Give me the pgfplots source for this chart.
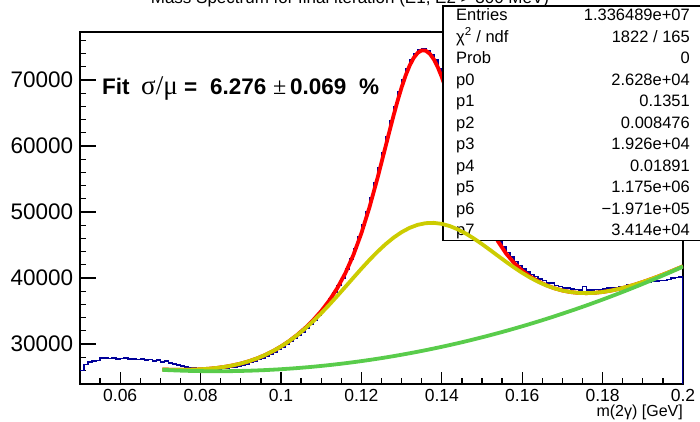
\documentclass[border=0pt]{standalone}
\usepackage{fontspec}
\setmainfont{Liberation Sans}
\newfontfamily\symf{Liberation Serif}
\usepackage{pgfplots}
\pgfplotsset{compat=1.18}

\definecolor{hblue}{RGB}{0,0,153}
\definecolor{fred}{RGB}{255,0,0}
\definecolor{fyel}{RGB}{204,204,0}
\definecolor{fgrn}{RGB}{89,204,75}

\begin{document}
\begin{tikzpicture}[x=1pt,y=1pt]
\useasboundingbox (0,0) rectangle (700,422);
\pgfplotsset{frame/.style={at={(80pt,38pt)}, anchor=south west, scale only axis,
  width=603pt, height=352pt, xmin=0.05, xmax=0.2, ymin=23940, ymax=77270}}

% histogram, total fit, axes
\begin{axis}[frame,
    axis line style={line width=1.5pt},
    tick pos=left, tick align=inside,
    xtick={0.06,0.08,0.1,0.12,0.14,0.16,0.18,0.2},
    xticklabels={0.06,0.08,0.1,0.12,0.14,0.16,0.18,0.2},
    minor xtick={0.055,0.065,0.07,0.075,0.085,0.09,0.095,0.105,0.11,0.115,0.125,0.13,0.135,0.145,0.15,0.155,0.165,0.17,0.175,0.185,0.19,0.195},
    ytick={30000,40000,50000,60000,70000},
    yticklabels={30000,40000,50000,60000,70000},
    minor ytick={24000,26000,...,76000},
    extra y ticks={30000,40000,50000,60000,70000},
    extra y tick labels={},
    extra y tick style={major tick length=15.5pt},
    major tick length=12pt, minor tick length=6pt,
    every tick/.append style={black, line width=1.3pt},
    xticklabel style={font=\fontsize{17.5}{17.5}\selectfont, inner sep=0pt, yshift=-4.8pt},
    yticklabel style={font=\fontsize{22.5}{22.5}\selectfont, inner sep=0pt, xshift=-6.7pt},
    scaled ticks=false]

% histogram, bins of 0.001 (left edge, content)
\addplot[const plot mark left, draw=hblue, line width=1.6pt] coordinates {
(0.050,26000) (0.051,26900) (0.052,27300) (0.053,27400) (0.054,27500)
(0.055,27900) (0.056,27850) (0.057,27800) (0.058,27850) (0.059,27750)
(0.060,27800) (0.061,27850) (0.062,27700) (0.063,27750) (0.064,27650)
(0.065,27700) (0.066,27600) (0.067,27650) (0.068,27450) (0.069,27550)
(0.070,27300) (0.071,27400) (0.072,27100) (0.073,26950) (0.074,26800)
(0.075,26650) (0.076,26550) (0.077,26450) (0.078,26350) (0.079,26300)
(0.080,26240) (0.081,26220) (0.082,26250) (0.083,26270) (0.084,26250)
(0.085,26280) (0.086,26330) (0.087,26420) (0.088,26530) (0.089,26660)
(0.090,26820) (0.091,26980) (0.092,27180) (0.093,27400) (0.094,27640)
(0.095,27880) (0.096,28170) (0.097,28470) (0.098,28800) (0.099,29150)
(0.100,29530) (0.101,29920) (0.102,30380) (0.103,30830) (0.104,31350)
(0.105,31850) (0.106,32430) (0.107,33020) (0.108,33680) (0.109,34380)
(0.110,35130) (0.111,35950) (0.112,36850) (0.113,37800) (0.114,38850)
(0.115,40000) (0.116,41350) (0.117,42850) (0.118,44450) (0.119,46200)
(0.120,48050) (0.121,50050) (0.122,52150) (0.123,54350) (0.124,56650)
(0.125,59000) (0.126,61400) (0.127,63750) (0.128,66000) (0.129,68150)
(0.130,70050) (0.131,71700) (0.132,73000) (0.133,73950) (0.134,74500)
(0.135,74650) (0.136,74350) (0.137,73750) (0.138,73000) (0.139,71650)
(0.140,70050) (0.141,68200) (0.142,66200) (0.143,64100) (0.144,61950)
(0.145,59800) (0.146,57700) (0.147,55700) (0.148,53850) (0.149,52100)
(0.150,50500) (0.151,49050) (0.152,47750) (0.153,46600) (0.154,45600)
(0.155,44650) (0.156,43850) (0.157,43150) (0.158,42500) (0.159,41900)
(0.160,41400) (0.161,40950) (0.162,40500) (0.163,40200) (0.164,39850)
(0.165,39600) (0.166,39250) (0.167,39200) (0.168,38850) (0.169,38700)
(0.170,38500) (0.171,38450) (0.172,38300) (0.173,38250) (0.174,38150)
(0.175,38700) (0.176,38200) (0.177,38150) (0.178,38250) (0.179,38200)
(0.180,38350) (0.181,38450) (0.182,38500) (0.183,38450) (0.184,38650)
(0.185,38700) (0.186,38900) (0.187,38950) (0.188,39050) (0.189,39200)
(0.190,39250) (0.191,39350) (0.192,39450) (0.193,39500) (0.194,39650)
(0.195,39600) (0.196,39800) (0.197,40000) (0.198,40050) (0.199,40150)
(0.200,40150) (0.200,0)
};

% total fit
\addplot[fred, line width=3.8pt, line join=round] coordinates {
(0.0705,26141) (0.072,26114) (0.074,26093) (0.076,26093) (0.078,26117) (0.080,26168)
(0.082,26252) (0.084,26374) (0.086,26542) (0.088,26761) (0.090,27039)
(0.092,27386) (0.094,27810) (0.096,28319) (0.098,28922) (0.100,29625)
(0.102,30436) (0.104,31363) (0.106,32416) (0.108,33614) (0.110,34986)
(0.112,36578) (0.114,38462) (0.116,40726) (0.118,43473) (0.120,46786)
(0.122,50696) (0.124,55127) (0.126,59883) (0.127,62280) (0.128,64615)
(0.129,66835) (0.130,68875) (0.131,70676) (0.132,72179) (0.133,73338)
(0.134,74114) (0.135,74484) (0.136,74438) (0.137,73982) (0.138,73138)
(0.139,71940) (0.140,70436) (0.141,68680) (0.142,66732) (0.143,64654)
(0.144,62507) (0.146,58217) (0.148,54221) (0.150,50738) (0.152,47847)
(0.154,45528) (0.156,43700) (0.158,42265) (0.160,41129) (0.162,40220)
(0.164,39487) (0.166,38902) (0.168,38445) (0.170,38104) (0.172,37872)
(0.174,37740) (0.176,37704) (0.178,37754) (0.180,37881) (0.182,38078)
(0.184,38335) (0.186,38644) (0.188,38999) (0.190,39393) (0.192,39820)
(0.194,40276) (0.196,40755) (0.198,41255) (0.200,41773)
};
\end{axis}

% stats box
\begin{scope}
\clip (443,181.5) rectangle (700,416);
\fill[white] (443,181.5) rectangle (700,416);
\begin{scope}[every node/.style={font=\fontsize{16.5}{16.5}\selectfont, inner sep=0pt}]
\node[anchor=base west] at (456,401.3) {Entries};
\node[anchor=base east] at (690,401.3) {1.336489e+07};
\node[anchor=base west] at (456,379.8) {χ\textsuperscript{2} / ndf};
\node[anchor=base east] at (690,379.8) {1822 / 165};
\node[anchor=base west] at (456,358.3) {Prob};
\node[anchor=base east] at (690,358.3) {0};
\node[anchor=base west] at (456,336.8) {p0};
\node[anchor=base east] at (690,336.8) {2.628e+04};
\node[anchor=base west] at (456,315.3) {p1};
\node[anchor=base east] at (690,315.3) {0.1351};
\node[anchor=base west] at (456,293.8) {p2};
\node[anchor=base east] at (690,293.8) {0.008476};
\node[anchor=base west] at (456,272.3) {p3};
\node[anchor=base east] at (690,272.3) {1.926e+04};
\node[anchor=base west] at (456,250.8) {p4};
\node[anchor=base east] at (690,250.8) {0.01891};
\node[anchor=base west] at (456,229.3) {p5};
\node[anchor=base east] at (690,229.3) {1.175e+06};
\node[anchor=base west] at (456,207.8) {p6};
\node[anchor=base east] at (690,207.8) {−1.971e+05};
\node[anchor=base west] at (456,186.3) {p7};
\node[anchor=base east] at (690,186.3) {3.414e+04};
\end{scope}
\end{scope}
\draw[line width=1.5pt] (443,181.5) rectangle (701,416);

% signal-free part and polynomial background, drawn over the box
\begin{axis}[frame, hide axis]
\addplot[fyel, line width=3.8pt, line join=round] coordinates {
(0.0705,26141) (0.072,26114) (0.074,26093) (0.076,26093) (0.078,26117) (0.080,26168)
(0.082,26252) (0.084,26374) (0.086,26542) (0.088,26761) (0.090,27039)
(0.092,27386) (0.094,27810) (0.096,28318) (0.098,28920) (0.100,29620)
(0.102,30423) (0.104,31332) (0.106,32344) (0.108,33456) (0.110,34658)
(0.112,35937) (0.114,37276) (0.116,38652) (0.118,40039) (0.120,41411)
(0.122,42735) (0.124,43978) (0.126,45114) (0.128,46112) (0.130,46947)
(0.132,47599) (0.134,48054) (0.136,48305) (0.138,48352) (0.140,48200)
(0.142,47864) (0.144,47363) (0.146,46722) (0.148,45968) (0.150,45133)
(0.152,44247) (0.154,43341) (0.156,42444) (0.158,41582) (0.160,40778)
(0.162,40049) (0.164,39409) (0.166,38868) (0.168,38431) (0.170,38099)
(0.172,37870) (0.174,37740) (0.176,37704) (0.178,37754) (0.180,37881)
(0.182,38078) (0.184,38335) (0.186,38644) (0.188,38999) (0.190,39393)
(0.192,39820) (0.194,40276) (0.196,40755) (0.198,41255) (0.200,41773)
};
\addplot[fgrn, line width=3.8pt, smooth] coordinates {
(0.0705,26085) (0.072,26040) (0.076,25947) (0.080,25892) (0.084,25874) (0.088,25894)
(0.092,25952) (0.096,26047) (0.100,26180) (0.104,26350) (0.108,26558)
(0.112,26804) (0.116,27087) (0.120,27408) (0.124,27766) (0.128,28162)
(0.132,28596) (0.136,29067) (0.140,29576) (0.144,30122) (0.148,30706)
(0.152,31328) (0.156,31987) (0.160,32684) (0.164,33418) (0.168,34190)
(0.172,35000) (0.176,35847) (0.180,36732) (0.184,37654) (0.188,38614)
(0.192,39612) (0.196,40647) (0.200,41720)
};
\end{axis}

% title (cut by the top of the page), axis title, fit result
\node[anchor=base, font=\fontsize{17}{17}\selectfont, inner sep=0pt] at (350,418.5)
  {Mass Spectrum for final iteration (E1, E2 > 300 MeV)};
\node[anchor=east, font=\fontsize{16}{16}\selectfont, inner sep=0pt] at (683,10)
  {m(2γ) [GeV]};
\begin{scope}[every node/.style={anchor=base west, inner sep=0pt, font=\fontsize{22.5}{22.5}\selectfont}]
\node at (102,327) {\bfseries Fit};
\node[font=\fontsize{27}{27}\selectfont] at (141,327) {\symf σ/μ};
\node at (184,327) {\bfseries =};
\node at (210,327) {\bfseries 6.276};
\node[font=\fontsize{24}{24}\selectfont] at (273,327) {\symf ±};
\node at (290,327) {\bfseries 0.069};
\node at (359,327) {\bfseries \%};
\end{scope}
\end{tikzpicture}
\end{document}
